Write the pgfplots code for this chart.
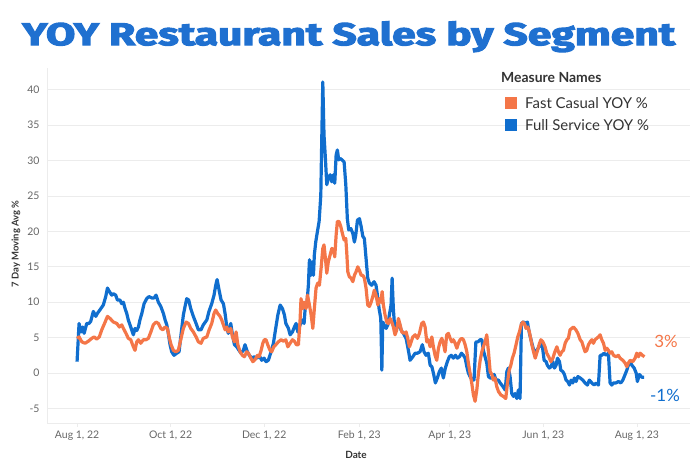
\documentclass[border=0pt]{standalone}
\usepackage{fontspec}
\setmainfont{Lato}
\newfontfamily\titlefont{Fira Sans}[BoldFeatures={FakeBold=3}]
\usepackage{pgfplots}
\pgfplotsset{compat=1.18}
\usepackage{pgfplotstable}
\definecolor{fsblue}{RGB}{16,110,206}
\definecolor{fcorange}{RGB}{244,118,72}
\definecolor{titleblue}{RGB}{31,112,208}
\definecolor{gridc}{RGB}{236,236,236}
\definecolor{txtgray}{RGB}{102,102,102}
\definecolor{txtdark}{RGB}{51,51,51}

% x = days since Aug 1, 2022
\pgfplotstableread{
x y
0 1.6
1.3 7
2.6 5.8
3.7 6.5
4.6 5.6
6.3 7
7.8 7
8.9 7.3
10.6 8.7
12.2 8
13.2 8.4
15.5 9.1
17.1 9.6
18.7 10.8
19.8 12
21.1 11.5
22.6 11
23.7 11.2
25.2 11
26.3 10.3
28 10.3
29.1 9.8
30.2 10
31.3 9.1
32.4 8.4
33.4 7.5
35 6.5
36.7 5.4
37.8 6.3
38.9 6
40 6.5
41 7.5
42.2 8.4
43.7 9.8
45.4 10.5
46.9 10.8
48.7 10.6
50.2 10.6
51.5 11
53 10
54.6 9.4
56.3 8.4
57.4 7.5
58.5 6.8
59.5 5.6
60.6 4
61.7 3
63.2 2.5
65 2.8
66.5 3
67.6 5.1
69.3 8.2
70.4 9.4
71.5 10.5
72.8 10.3
74.1 9.1
75.8 8
77.6 7
79.1 6.1
80.8 6.1
82.3 6.8
84.6 7.5
86 8.7
87.8 9.8
89.3 11
90.4 12.4
91.3 13.2
92.6 11.7
93.9 10.3
95.4 9.8
96.5 8.4
97.6 6.5
98.6 5.6
100.2 7
101.3 5.4
102.6 4
104.1 3.7
105.6 3.2
106.9 2.8
108.4 3.2
109.5 4
111 3
112.3 2.5
113.9 2.1
115.6 2.3
117.2 2.1
118.9 2.4
120.4 1.8
121.9 2.1
123.2 1.6
124.7 1.8
126.5 3
128 4.2
129.5 6.3
130.9 8.2
132.4 9.6
133.9 9.1
135.2 8.2
136.1 7
137.8 6.3
138.9 5.4
140.4 5.8
141.7 6.5
142.8 7
143.9 5.8
145.4 6.8
147.0 7.5
148.0 7
148.7 9.1
149.8 9.6
150.8 12.4
151.5 16
152.4 13.8
153.2 15.7
154.1 13.8
154.7 16.7
155.6 18.5
156.7 20
157.8 21.4
158.9 25.1
159.5 32.7
160.2 41.1
161.0 33.6
161.9 30.3
162.8 26.6
163.8 27.5
165.0 28
166.1 27
167.1 28
168.0 26.8
168.9 30.8
169.7 31.5
170.6 30.1
171.5 30.3
172.8 30.1
174.1 29.8
175.2 26.6
176.2 21.8
177.1 20.2
178.5 20.4
179.8 19.7
180.8 18.5
181.7 19.5
182.8 21.6
184.1 21.8
185.2 20.7
186.3 19.3
187.3 19
188.4 16.2
189.5 13.4
190.6 12.7
192.1 12.4
193.6 12.9
194.9 12.4
195.8 11
196.9 9.1
198.0 7.7
198.7 0.4
199.3 7.2
200.2 6.8
201.5 6.3
202.6 6.8
203.6 8.2
204.7 9.6
205.4 13.4
206.2 9.1
207.1 6.3
208.4 6.3
209.9 7.2
211.2 6.1
212.7 5.6
214.5 4.9
216.0 3.2
217.1 1.8
218.9 2.3
220.4 2.8
221.9 2.8
223.6 3
225.1 4
226.2 3
227.5 2.5
229.0 2.8
230.2 1.1
231.3 0.9
232.3 0
233.6 -1.4
234.9 -0.7
236.2 0.2
237.5 0.7
238.8 -0.7
240.1 0.7
241.4 1.6
242.7 2.3
244.0 2.5
245.3 2.1
246.7 2.5
248.0 2.1
249.3 2.3
250.6 2.8
251.9 2.5
253.0 2.1
254.1 0.9
255.1 0
256.2 -0.5
257.7 -1
258.8 -1
260.0 4.4
261.3 4.4
262.8 4.7
263.9 4.7
264.9 3.2
266.0 2.3
267.1 1.4
268.2 -0.5
269.3 -0.7
270.4 -0.7
271.9 -0.2
273.2 -1
274.7 -1
275.8 -1.4
277.6 -1.9
279.1 -2.4
280.2 0.2
281.2 0.7
282.3 -0.5
283.4 -2.9
284.5 -3.3
285.6 -2.9
286.7 -3.6
287.7 -2.4
288.8 -3.6
289.7 7
291.0 7.2
292.6 7
293.6 7.2
294.9 5.6
296.5 4.2
298.0 3
299.7 3.2
301.2 3.7
302.3 4.4
303.4 3.7
304.5 1.8
305.8 1.6
306.6 1.1
307.9 0.7
309.0 0.9
310.2 1.6
311.2 0.7
312.3 1.1
313.2 2.1
314.5 1.6
315.4 0.4
316.7 0.2
317.7 -0.2
318.8 -1
319.9 -1.2
321.0 -1.7
322.1 -1
323.2 -1.4
324.2 -0.7
325.3 -1.2
326.5 -0.5
328.0 -0.7
329.7 -1
331.2 -1.4
332.7 -1.7
334.0 -1
335.6 -1.4
337.1 -1.7
338.4 -1.4
339.9 -1.7
341.0 2.5
342.1 2.5
343.6 2.8
344.9 2.5
346.4 2.8
347.5 -1.4
348.6 -1.7
349.7 -1.4
351.4 -1.4
352.9 -1.2
354.5 -1.4
355.8 -1
357.3 -0.2
358.4 0.4
359.4 1.1
360.6 1.6
361.7 1.1
363.2 0.7
364.5 0
365.3 -1.2
366.6 -0.2
368.2 -0.6
369.7 -0.6
}\fullservice

\pgfplotstableread{
x y
0 4.9
1.3 5.1
3.1 4.4
5.2 4.2
7.4 4.5
9.6 4.9
11.1 5.1
12.8 4.8
14.5 5.1
16.1 6.1
18.3 7.2
19.8 8
21.5 7.7
23.7 7.2
25.9 7
27.6 6.5
29.1 6.8
30.2 6.3
31.9 5.6
33.4 4.9
35.0 4.7
36.7 3.7
37.8 3.2
38.9 4.4
40.0 4.7
41.5 4.2
43.2 4.7
45.0 4.7
46.5 4.9
48.1 5.8
49.7 6.8
51.5 7.2
53.0 7
54.6 6.3
55.9 6.1
57.4 6.5
58.9 6.3
60.2 4.9
61.3 4
62.8 3.2
64.5 3
66.0 3.2
67.6 4.7
69.3 6.3
71.1 7.2
72.6 7
74.1 6.3
75.8 5.8
77.6 5.1
79.1 4.4
80.8 4.2
82.3 4.9
84.6 5.1
86.1 6.1
87.8 7
89.3 8.4
90.4 8.9
91.7 8.4
93.2 8
94.3 7.5
95.4 6.8
96.5 6.1
97.6 6.5
98.6 5.8
100.2 6.3
101.3 5.1
102.6 4.4
103.7 5.8
104.8 4
106.3 3
107.8 2.5
109.1 2.3
110.6 3
111.7 2.8
113.3 2.1
114.6 1.6
116.1 1.9
117.6 2.5
118.7 2.3
120.0 3.2
121.1 4.2
122.1 4.7
123.2 4.7
124.3 4
125.8 3.2
126.9 3
128.2 3.7
129.6 4
131.2 4.4
133.0 4.7
134.5 4.5
136.1 4.7
137.4 3.7
138.9 4.2
140.4 4.7
141.7 4.5
143.0 4
144.3 4
145.4 7.5
146.0 10.5
147.2 9.1
148.0 10
149.3 9.1
150.2 11
151.5 9.6
152.6 8.2
153.7 6.3
154.7 9.1
155.8 12
156.9 12.7
158.0 12.4
159.1 14.8
160.2 17.6
161.0 18.1
161.9 16.2
162.8 14.1
163.8 15.7
165.0 16.7
166.1 17.6
167.1 17.4
168.0 16.4
168.9 19.5
169.7 21.4
170.8 21.4
171.9 20.7
173.0 19.7
174.1 18.8
175.2 19
175.8 17.1
176.5 14.3
177.5 13.6
178.6 13.4
179.8 12.9
180.8 13.8
181.9 14.3
183.0 15
184.1 14.5
185.2 13.8
186.3 13.8
187.3 13.4
188.4 12
189.5 9.6
190.6 9.4
191.7 10
192.8 10.8
193.8 11.7
194.9 11
196.1 9.6
197.1 10.5
198.0 10
198.9 11.5
199.7 9.6
200.8 8.2
201.9 7.2
203.0 7
204.1 7.7
205.2 7.2
206.2 6.5
207.3 5.4
208.4 6.1
209.5 7.7
210.6 6.8
211.7 5.8
213.2 5.6
214.5 5.8
215.6 4.9
216.7 3.7
217.8 4.4
218.9 5.1
220.4 5.4
221.9 4.9
223.2 5.6
224.7 7
225.8 7.2
226.9 6.5
228.0 4.4
229.0 4.7
230.2 3.7
231.3 5.1
232.3 3.7
233.4 2.5
234.5 1.8
235.6 3.5
236.7 4.4
237.8 4.9
238.8 4.2
239.9 3
241.0 5.4
242.1 5.6
243.2 4.9
244.3 4.4
245.3 4.7
246.5 4.2
247.6 3.5
248.6 4.2
249.7 4.7
250.8 4.9
251.9 4.7
253.0 4
254.1 3
255.1 1.4
256.2 0
257.3 -1.4
258.4 -3.1
259.5 -4
260.6 -2.4
261.6 -0.2
262.8 1.8
263.9 3
264.9 3.7
266.0 4.4
267.1 5.4
268.2 3
269.3 0.2
270.4 -0.2
271.4 -1
272.5 -0.7
273.6 -1.9
274.7 -2.6
276.3 -3.1
277.9 -3.3
279.5 -3.6
280.6 -1.4
281.7 0.4
282.8 1.1
283.8 2.1
284.9 2.8
286.2 4
287.3 5.1
288.4 5.8
289.5 6.8
290.6 7.2
291.6 7
292.7 6.3
293.9 6.5
294.9 5.8
296.5 4
297.6 3
298.7 2.1
300.2 3.2
301.5 4.2
302.4 4.7
303.7 4.4
305.1 3.7
306.2 2.8
307.5 2.3
308.9 1.6
310.2 2.1
311.5 3
312.8 3.7
313.8 3
314.9 2.5
316.0 3
317.1 3.2
318.2 4.2
319.3 4.7
320.3 4.9
321.4 6.1
322.5 6.3
323.6 6.5
325.2 6.1
326.5 5.6
328.0 4.7
329.1 4.4
330.1 3.7
331.2 3
332.3 3.2
333.4 4
334.5 4.4
335.6 4.7
336.6 4.2
337.7 4.7
338.8 4.9
339.9 5.1
341.0 5.4
342.1 4.7
343.2 4.2
344.3 3.2
345.4 3.5
346.4 3.2
347.5 2.8
348.6 3
349.7 2.5
351.4 2.3
352.9 2.5
354.0 2.1
355.8 1.8
357.3 1.4
358.4 0.9
359.4 1.4
360.6 1.8
362.3 1.6
363.8 2.1
364.9 2.8
366.0 2.3
367.1 2.8
368.6 2.5
369.9 2.3
}\fastcasual

\begin{document}
\begin{tikzpicture}
\useasboundingbox (-47bp,-43bp) rectangle (649bp,423bp);
\begin{axis}[
  at={(0,0)}, anchor=south west,
  scale only axis, width=643bp, height=355bp,
  xmin=-19.6, xmax=399.6, ymin=-7.06, ymax=43.08,
  axis x line*=bottom, axis y line*=left,
  axis line style={-, draw=gridc, line width=0.8bp},
  ytick={-5,0,5,10,15,20,25,30,35,40},
  ymajorgrids, grid style={draw=gridc, line width=0.8bp},
  ytick style={draw=none},
  xtick={0,61,122,184,243,304,365},
  xticklabels={{Aug 1, 22},{Oct 1, 22},{Dec 1, 22},{Feb 1, 23},{Apr 1, 23},{Jun 1, 23},{Aug 1, 23}},
  xtick style={draw=gridc, line width=0.8bp},
  tick align=outside, major tick length=4bp,
  /pgf/number format/assume math mode=true,
  yticklabel style={font=\fontsize{10.5}{12}\selectfont, text=txtgray},
  xticklabel style={font=\fontsize{10.5}{12}\selectfont, text=txtgray},
  clip mode=individual,
  line join=round,
]
\addplot[color=fsblue, line width=3.2bp, no markers] table[x=x,y=y] {\fullservice};
\addplot[color=fcorange, line width=3.2bp, no markers] table[x=x,y=y] {\fastcasual};
\node[text=fcorange, font=\fontsize{17}{20}\selectfont] at (axis cs:384,4.4) {3\%};
\node[text=fsblue, font=\fontsize{17}{20}\selectfont] at (axis cs:383.3,-3.1) {-1\%};
\end{axis}
% title
\node[anchor=north west, inner sep=0pt, text=titleblue] at (-25bp,402bp)
  {\resizebox*{653bp}{31bp}{\titlefont\bfseries YOY Restaurant Sales by Segment}};
% axis labels
\node[font=\bfseries\fontsize{10}{12}\selectfont, text=txtdark] at (309bp,-32bp) {Date};
\node[font=\bfseries\fontsize{9.5}{11}\selectfont, text=txtdark, rotate=90] at (-31bp,179bp) {7 Day Moving Avg \%};
% legend
\node[anchor=west, inner sep=0pt, font=\bfseries\fontsize{14}{16}\selectfont, text=txtdark] at (454bp,345bp) {Measure Names};
\fill[fcorange] (458bp,314bp) rectangle (470bp,326bp);
\node[anchor=west, inner sep=0pt, font=\fontsize{15}{17}\selectfont, text=txtdark] at (478bp,320bp) {Fast Casual YOY \%};
\fill[fsblue] (458bp,292bp) rectangle (470bp,304bp);
\node[anchor=west, inner sep=0pt, font=\fontsize{15}{17}\selectfont, text=txtdark] at (478bp,298bp) {Full Service YOY \%};
\end{tikzpicture}
\end{document}
